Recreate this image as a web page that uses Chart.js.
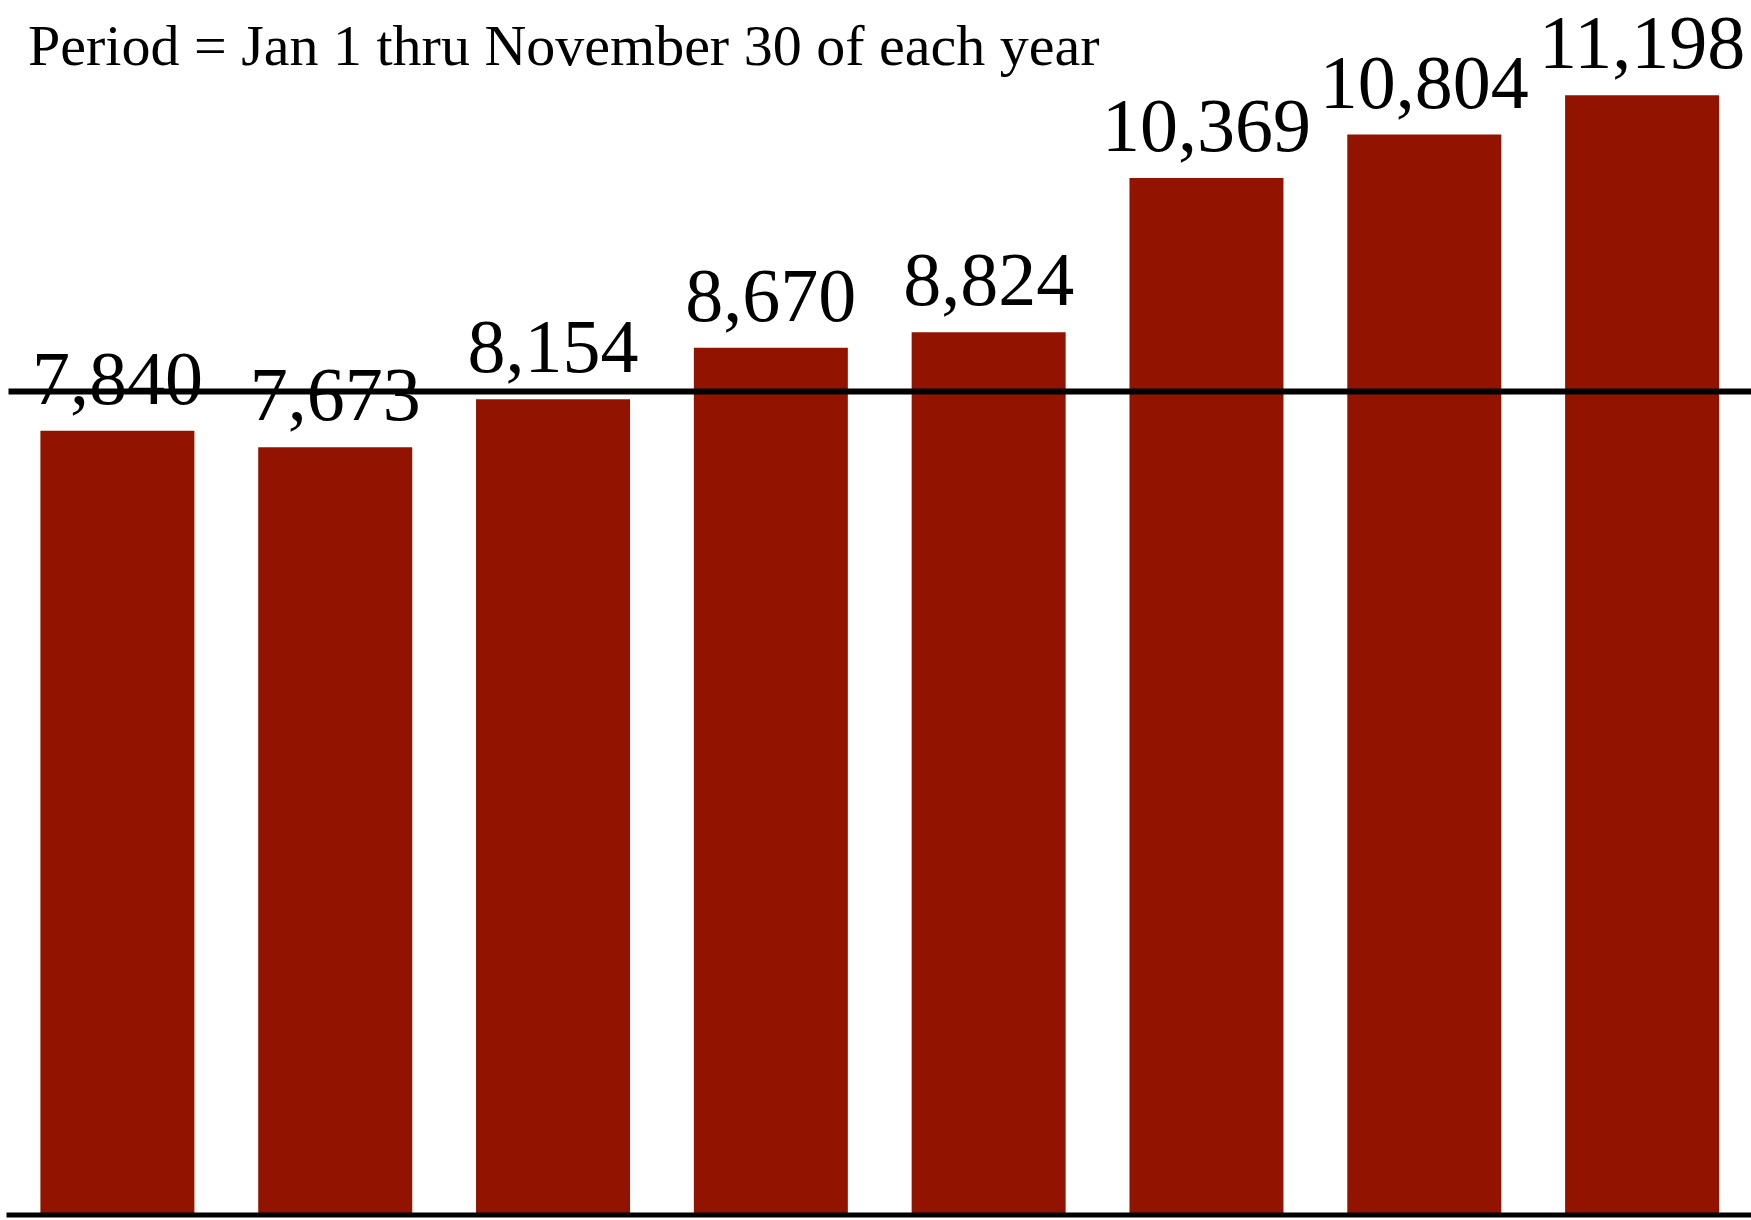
<!DOCTYPE html>
<html>
<head>
<meta charset="utf-8">
<script src="https://cdn.jsdelivr.net/npm/chart.js@4/dist/chart.umd.min.js"></script>
<style>
  html, body { margin: 0; padding: 0; background: #fff; }
  canvas { display: block; }
</style>
</head>
<body>
<canvas id="chart-area" width="1751" height="1220"></canvas>
<script>
var years = ['Y1', 'Y2', 'Y3', 'Y4', 'Y5', 'Y6', 'Y7', 'Y8'];
var counts = [7840, 7673, 8154, 8670, 8824, 10369, 10804, 11198];
var refLine = 8232;
var noteText = 'Period = Jan 1 thru November 30 of each year';

var barColor = 'rgb(146, 20, 0)';
var serif = '"Liberation Serif", "Times New Roman", serif';

var extras = {
    id: 'extras',
    afterDatasetsDraw: function (chart) {
        var ctx = chart.ctx;
        var area = chart.chartArea;
        var y = chart.scales.y;
        ctx.save();
        // value labels above each bar
        ctx.fillStyle = '#000';
        ctx.font = '76px ' + serif;
        ctx.textAlign = 'center';
        ctx.textBaseline = 'alphabetic';
        chart.getDatasetMeta(0).data.forEach(function (bar, i) {
            ctx.fillText(counts[i].toLocaleString('en-US'), bar.x, bar.y - 27);
        });
        // reference line
        var ry = y.getPixelForValue(refLine);
        ctx.strokeStyle = '#000';
        ctx.lineWidth = 6;
        ctx.beginPath();
        ctx.moveTo(area.left, ry);
        ctx.lineTo(area.right, ry);
        ctx.stroke();
        // baseline
        var by = y.getPixelForValue(0) + 1;
        ctx.lineWidth = 5;
        ctx.beginPath();
        ctx.moveTo(area.left - 2, by);
        ctx.lineTo(area.right, by);
        ctx.stroke();
        // note at top left
        ctx.font = '58px ' + serif;
        ctx.textAlign = 'left';
        ctx.fillText(noteText, 28, 65);
        ctx.restore();
    }
};

var config = {
    type: 'bar',
    data: {
        labels: years,
        datasets: [{
            data: counts,
            backgroundColor: barColor,
            borderWidth: 0,
            categoryPercentage: 1.0,
            barPercentage: 0.707
        }]
    },
    options: {
        responsive: false,
        animation: false,
        devicePixelRatio: 1,
        layout: {
            padding: { left: 8.5, right: 0, top: 15, bottom: 6 }
        },
        plugins: {
            legend: { display: false },
            title: { display: false },
            tooltip: { enabled: false }
        },
        scales: {
            x: { display: false },
            y: { display: false, min: 0, max: 12000 }
        }
    },
    plugins: [extras]
};

var ctx = document.getElementById('chart-area').getContext('2d');
window.myBar = new Chart(ctx, config);
</script>
</body>
</html>
